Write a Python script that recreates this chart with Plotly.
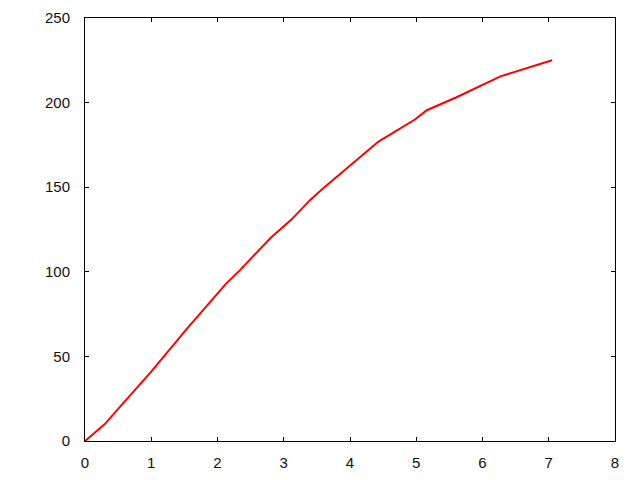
import plotly.graph_objects as go

x_vals = [0, 0.3, 0.5, 1.0, 1.53, 2.0, 2.13, 2.34, 2.46, 2.8, 3.12, 3.4, 3.57, 4.0, 4.43, 4.98, 5.16, 5.6, 6.27, 7.05]
y_vals = [0, 10, 19, 41, 66, 87.5, 93, 101, 106, 120, 131, 142.5, 148.5, 163, 177, 190, 195.5, 203, 215.5, 225]
x_ticks = [0, 1, 2, 3, 4, 5, 6, 7, 8]
y_ticks = [0, 50, 100, 150, 200, 250]

fig = go.Figure()
fig.add_trace(go.Scatter(x=x_vals, y=y_vals, mode="lines",
                         line=dict(color="#ff0000", width=2), showlegend=False))

axis_common = dict(showgrid=False, zeroline=False, showline=True, linecolor="black",
                   linewidth=1, mirror="ticks", ticks="inside", ticklen=4,
                   tickcolor="black", tickwidth=1, automargin=False,
                   tickfont=dict(family="Liberation Sans, Arial, sans-serif", size=15, color="#111"))

fig.update_layout(
    width=632, height=472,
    margin=dict(l=77, r=25, t=10, b=39),
    paper_bgcolor="white", plot_bgcolor="white",
    xaxis=dict(range=[0, 8], tickvals=x_ticks, ticklabelstandoff=8, **axis_common),
    yaxis=dict(range=[0, 250], tickvals=y_ticks, ticklabelstandoff=11, **axis_common),
)

fig.write_html("out.html")
